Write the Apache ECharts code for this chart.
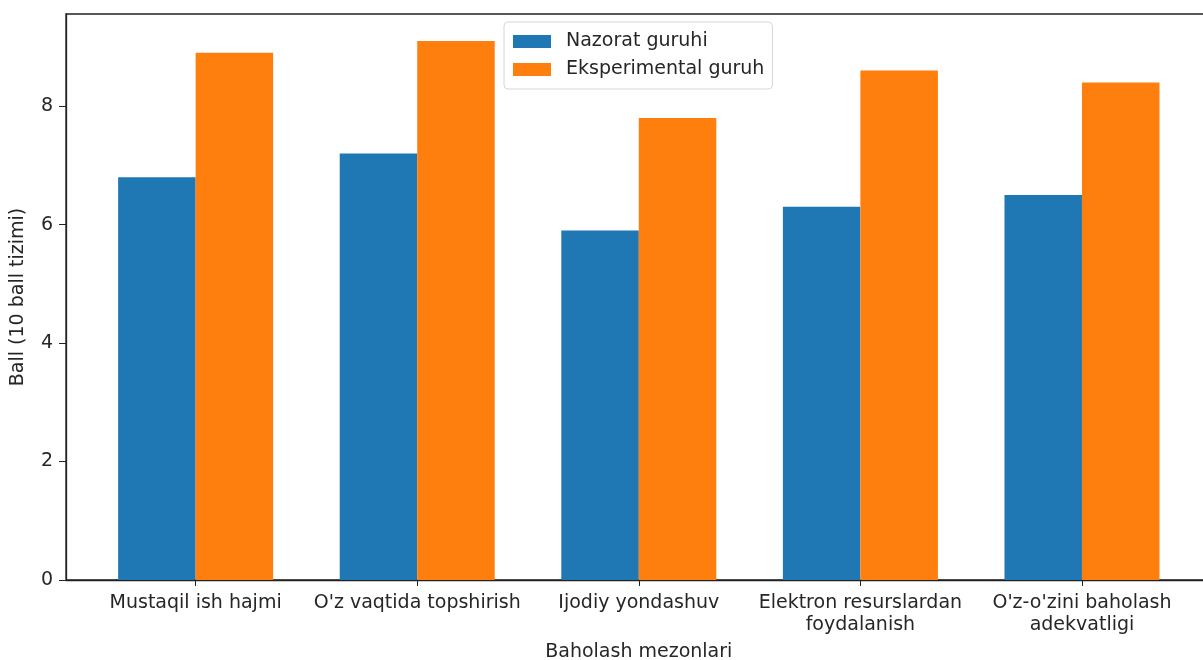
<!DOCTYPE html>
<html>
<head>
<meta charset="utf-8">
<script src="https://cdn.jsdelivr.net/npm/echarts@6/dist/echarts.min.js"></script>
<style>
  html, body { margin: 0; padding: 0; background: #fff; }
  #chart { width: 1203px; height: 660px; }
</style>
</head>
<body>
<div id="chart"></div>
<script>
// criteria (x positions 0..4)
const categories = [
  'Mustaqil ish hajmi',
  "O'z vaqtida topshirish",
  'Ijodiy yondashuv',
  'Elektron resurslardan\nfoydalanish',
  "O'z-o'zini baholash\nadekvatligi"
];
const seriesNames = ['Nazorat guruhi', 'Eksperimental guruh'];
const controlValues = [6.8, 7.2, 5.9, 6.3, 6.5];
const experimentValues = [8.9, 9.1, 7.8, 8.6, 8.4];
const yTicks = [0, 2, 4, 6, 8];
const xTicks = [0, 1, 2, 3, 4];

const font = 'DejaVu Sans';
const textColor = '#262626';
const fs = 19;
const chart = echarts.init(document.getElementById('chart'));

// matplotlib-like limits: bars 0.35 wide, 5% margins
const xMin = -0.585, xMax = 4.585;
const yMax = 9.555;

const option = {
  animation: false,
  textStyle: { fontFamily: font },
  grid: {
    left: 66, top: 14, width: 1145.6, height: 566,
    containLabel: false,
    outerBoundsMode: 'none',
    show: true,
    borderColor: '#222',
    borderWidth: 1.3
  },
  legend: {
    orient: 'vertical',
    left: 504, top: 22,
    data: seriesNames,
    icon: 'rect',
    itemWidth: 38, itemHeight: 13,
    itemGap: 9,
    padding: [10, 8, 10, 9],
    borderColor: '#d6d6d6', borderWidth: 1, borderRadius: 4,
    backgroundColor: '#fff',
    textStyle: { fontSize: fs, color: textColor, fontFamily: font, padding: [0, 0, 0, 10] }
  },
  xAxis: {
    type: 'value',
    min: xMin, max: xMax,
    name: 'Baholash mezonlari',
    nameLocation: 'middle',
    nameGap: 63,
    nameTextStyle: { fontSize: fs, color: textColor, fontFamily: font },
    splitLine: { show: false },
    axisLine: { show: true, onZero: false, lineStyle: { color: '#222', width: 1.3 } },
    axisTick: { show: true, length: 6, customValues: xTicks, lineStyle: { color: '#222' } },
    axisLabel: {
      customValues: xTicks,
      formatter: v => categories[Math.round(v)],
      fontSize: fs, color: textColor, fontFamily: font, margin: 12, lineHeight: 22
    }
  },
  yAxis: {
    type: 'value',
    min: 0, max: yMax,
    name: 'Ball (10 ball tizimi)',
    nameLocation: 'middle',
    nameGap: 38,
    nameTextStyle: { fontSize: fs, color: textColor, fontFamily: font },
    splitLine: { show: false },
    axisLine: { show: true, onZero: false, lineStyle: { color: '#222', width: 1.3 } },
    axisTick: { show: true, length: 7, customValues: yTicks, lineStyle: { color: '#222' } },
    axisLabel: {
      customValues: yTicks,
      fontSize: fs, color: textColor, fontFamily: font, margin: 13
    }
  },
  series: [
    {
      name: seriesNames[0],
      type: 'bar',
      data: controlValues.map((v, i) => [i, v]),
      barWidth: 77.5,
      barGap: '0%',
      itemStyle: { color: '#1f77b4' }
    },
    {
      name: seriesNames[1],
      type: 'bar',
      data: experimentValues.map((v, i) => [i, v]),
      barWidth: 77.5,
      barGap: '0%',
      itemStyle: { color: '#ff7f0e' }
    }
  ]
};

chart.setOption(option);
</script>
</body>
</html>
